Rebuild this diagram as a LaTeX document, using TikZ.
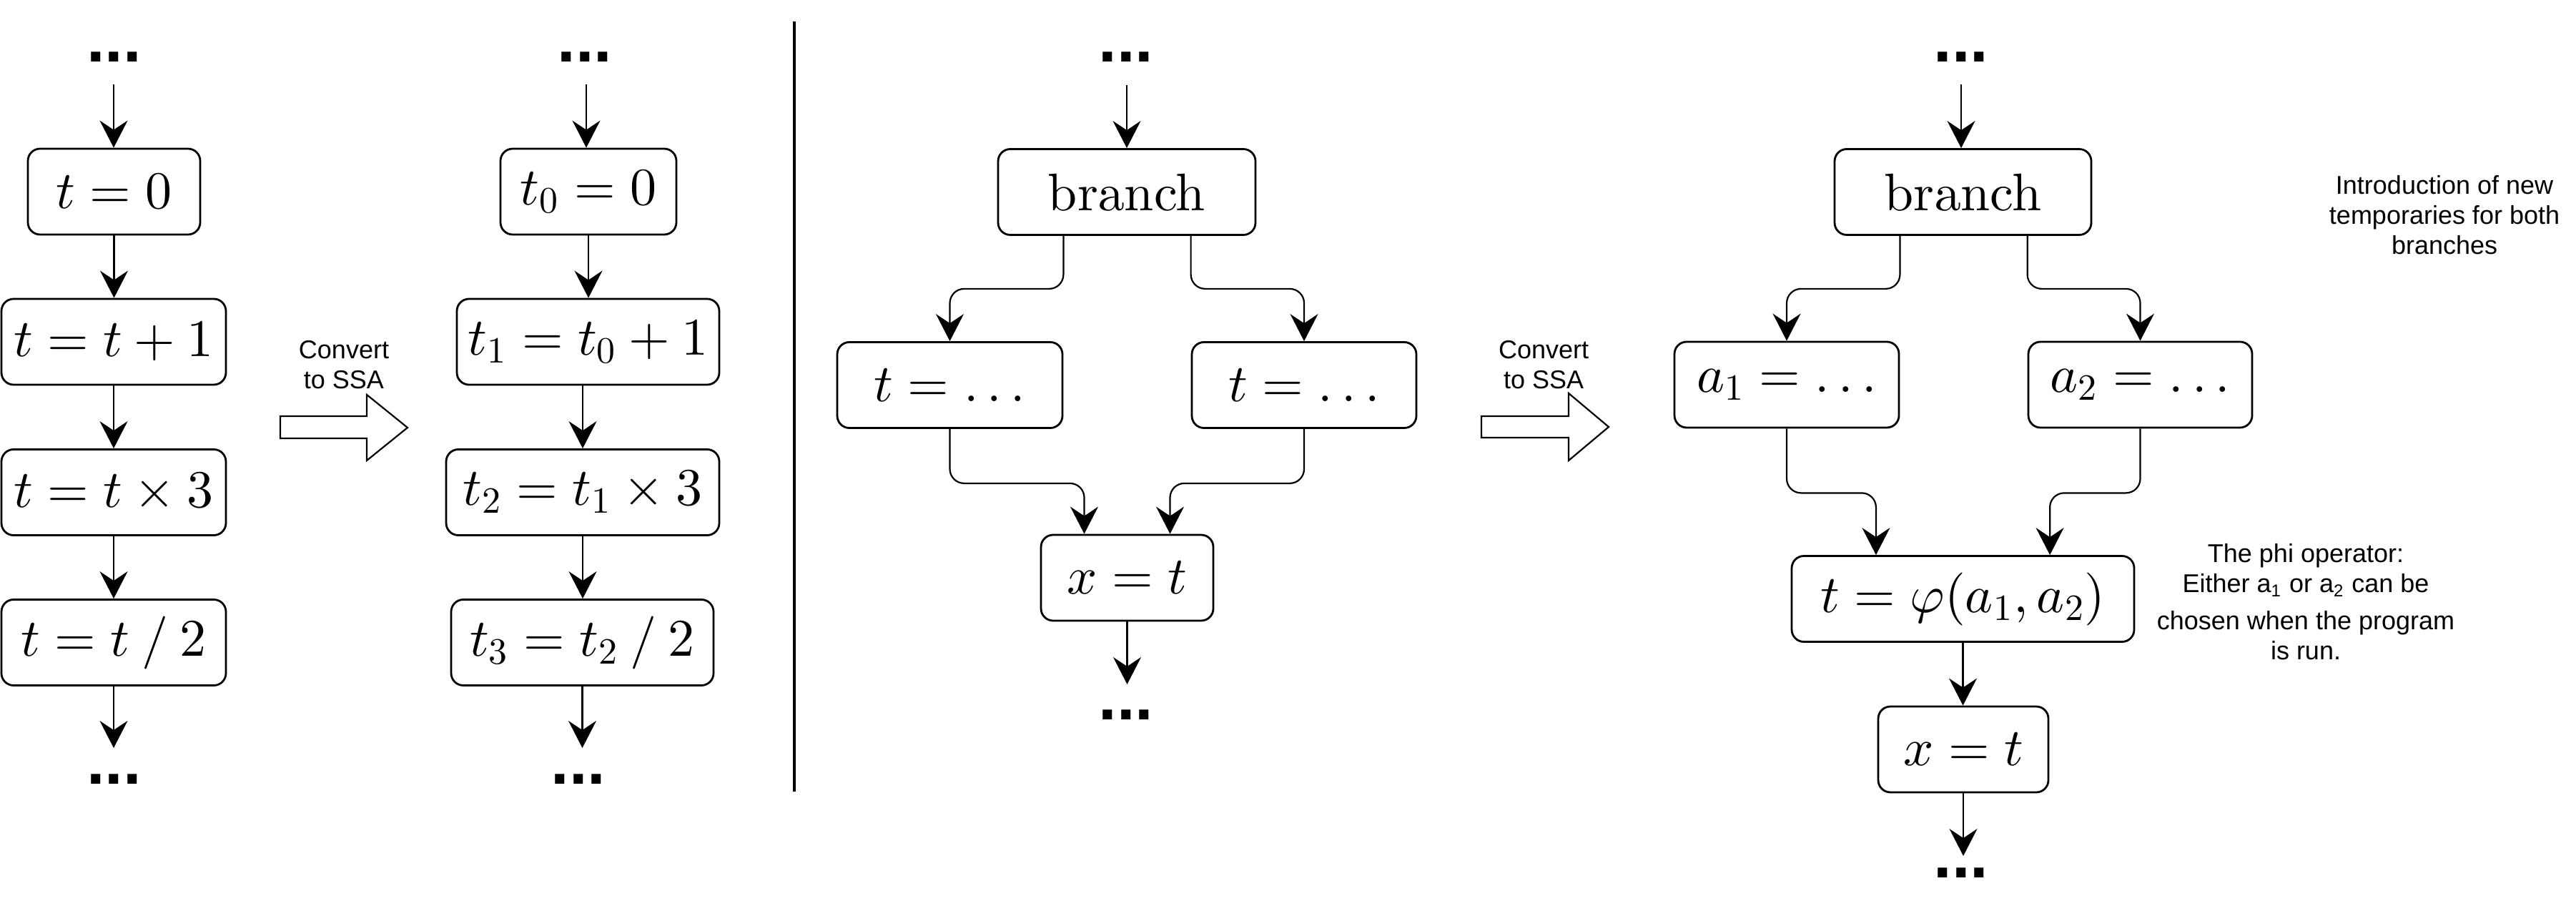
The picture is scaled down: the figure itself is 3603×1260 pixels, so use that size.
\RequirePackage{fix-cm}
\documentclass[tikz,border=0pt]{standalone}
\usepackage[no-math]{fontspec}
\setsansfont{Liberation Sans}
\DeclareFontShape{OML}{cmm}{m}{it}{<->cmmi10}{}
\DeclareFontShape{OT1}{cmr}{m}{n}{<->cmr10}{}
\DeclareFontShape{OMS}{cmsy}{m}{n}{<->cmsy10}{}
\usetikzlibrary{arrows.meta}
\newcommand{\brtext}[1]{{\usefont{OT1}{cmr}{m}{n}#1}}
\tikzset{
 box/.style={draw, line width=0.7pt, rounded corners=4.25pt, minimum height=30pt, inner sep=0pt, font=\fontsize{18.5}{22}\selectfont},
 arr/.style={-{Stealth[length=9.5pt,width=9.75pt,inset=3.25pt]}, line width=0.55pt},
 conn/.style={arr, rounded corners=5pt},
 dotsl/.style={font=\sffamily\bfseries\fontsize{23}{26}\selectfont, anchor=base, inner sep=0pt},
 lbl/.style={font=\sffamily\fontsize{9}{10.5}\selectfont, align=center, inner sep=0pt},
 blockarrow/.style={draw, line width=0.55pt, line join=miter},
}
\begin{document}
\begin{tikzpicture}[x=0.25pt, y=-0.25pt]
\useasboundingbox (0,0) rectangle (3603,1260);

% ---------- column 1 ----------
\node[box, minimum width=60.25pt] (A0) at (159.5,268) {$t=0$};
\node[box, minimum width=78.5pt] (A1) at (159,478) {$t=t+1$};
\node[box, minimum width=78.5pt] (A2) at (159,688.5) {$t=t\times 3$};
\node[box, minimum width=78.5pt] (A3) at (159,898.5) {$t=t\mathbin{/}2$};
\node[dotsl] (D1t) at (159.5,87) {...};
\node[dotsl] (D1b) at (159.5,1096) {...};
\coordinate (s1) at (159,118);
\coordinate (e1) at (159,1046);
\draw[arr] (s1) -- (s1 |- A0.north);
\draw[arr] (A0.south) -- (A0.south |- A1.north);
\draw[arr] (A1.south) -- (A1.south |- A2.north);
\draw[arr] (A2.south) -- (A2.south |- A3.north);
\draw[arr] (A3.south) -- (e1);

% ---------- convert arrow 1 ----------
\draw[blockarrow] (392,582) -- (513,582) -- (513,552) -- (570,598) -- (513,644) -- (513,613) -- (392,613) -- cycle;
\node[lbl] (L1) at (481,510) {Convert\\to SSA};

% ---------- column 2 ----------
\node[box, minimum width=61.5pt] (B0) at (823,268) {$t_0=0$};
\node[box, minimum width=91.75pt] (B1) at (822.5,478) {$t_1=t_0+1$};
\node[box, minimum width=95.5pt] (B2) at (815,688.5) {$t_2=t_1\times 3$};
\node[box, minimum width=91.75pt] (B3) at (814.5,898.5) {$t_3=t_2\mathbin{/}2$};
\node[dotsl] (D2t) at (818,87) {...};
\node[dotsl] (D2b) at (809,1096) {...};
\coordinate (s2) at (820,118);
\coordinate (e2) at (814.5,1046);
\draw[arr] (s2) -- (s2 |- B0.north);
\draw[arr] (B0.south) -- (B0.south |- B1.north);
\draw[arr] (B1.south -| B2.north) -- (B2.north);
\draw[arr] (B2.south) -- (B2.south |- B3.north);
\draw[arr] (B3.south) -- (e2);

% ---------- separator ----------
\coordinate (sepT) at (1111,30);
\coordinate (sepB) at (1111,1107);
\draw[line width=0.85pt] (sepT) -- (sepB);

% ---------- middle diagram ----------
\node[box, minimum width=90pt] (C0) at (1576,268.5) {\brtext{branch}};
\node[box, minimum width=78.75pt] (C1) at (1328.5,538.5) {$t=\ldots$};
\node[box, minimum width=78.5pt] (C2) at (1824,538.5) {$t=\ldots$};
\node[box, minimum width=60.25pt] (C3) at (1576.5,808) {$x=t$};
\node[dotsl] (D3t) at (1575,87) {...};
\node[dotsl] (D3b) at (1575,1006) {...};
\coordinate (s3) at (1576,119);
\coordinate (e3) at (1576.5,957);
\draw[arr] (s3) -- (s3 |- C0.north);
\draw[conn] (C1.north east |- C0.south) -- ++(0,74) -| (C1.north);
\draw[conn] (C2.north west |- C0.south) -- ++(0,74) -| (C2.north);
\draw[conn] (C1.south) -- ++(0,76) -| ([xshift=-15pt]C3.north);
\draw[conn] (C2.south) -- ++(0,76) -| ([xshift=15pt]C3.north);
\draw[arr] (C3.south) -- (e3);

% ---------- convert arrow 2 ----------
\draw[blockarrow] (2072,582) -- (2194,582) -- (2194,550) -- (2250,597) -- (2194,644) -- (2194,612) -- (2072,612) -- cycle;
\node[lbl] (L2) at (2159,510) {Convert\\to SSA};

% ---------- right diagram ----------
\node[box, minimum width=89.75pt] (E0) at (2745.5,268.5) {\brtext{branch}};
\node[box, minimum width=78.5pt] (E1) at (2499,538) {$a_1=\ldots$};
\node[box, minimum width=78.25pt] (E2) at (2993.5,538) {$a_2=\ldots$};
\node[box, minimum width=119.75pt] (E3) at (2745.5,837.5) {$t=\varphi(a_1,a_2)$};
\node[box, minimum width=59.5pt] (E4) at (2746,1048) {$x=t$};
\node[dotsl] (D4t) at (2743,87) {...};
\node[dotsl] (D4b) at (2743,1227) {...};
\coordinate (s4) at (2743,118);
\coordinate (e4) at (2746,1197);
\draw[arr] (s4) -- (s4 |- E0.north);
\draw[conn] (E1.north east |- E0.south) -- ++(0,74) -| (E1.north);
\draw[conn] (E2.north west |- E0.south) -- ++(0,74) -| (E2.north);
\draw[conn] (E1.south) -- ++(0,90) -| ([xshift=-30.4pt]E3.north);
\draw[conn] (E2.south) -- ++(0,90) -| ([xshift=30.4pt]E3.north);
\draw[arr] (E3.south) -- (E3.south |- E4.north);
\draw[arr] (E4.south) -- (e4);

\node[lbl] (L3) at (3419,301) {Introduction of new\\temporaries for both\\branches};
\node[lbl] (L4) at (3225,842) {The phi operator:\\Either a\textsubscript{1} or a\textsubscript{2} can be\\[2.5pt]chosen when the program\\is run.};
\end{tikzpicture}
\end{document}
